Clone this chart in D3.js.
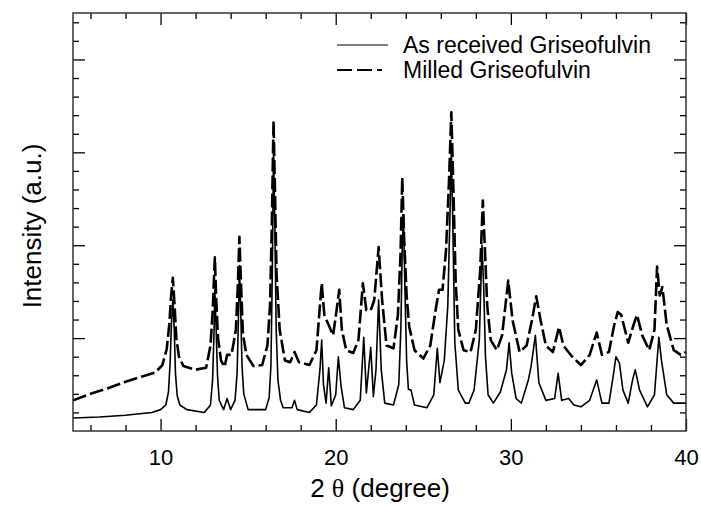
<!DOCTYPE html>
<html>
<head>
<meta charset="utf-8">
<script src="https://cdn.jsdelivr.net/npm/d3@7"></script>
<style>
body { margin: 0; background: #fff; }
text { font-family: "Liberation Sans", Arial, sans-serif; fill: #000; }
</style>
</head>
<body>
<script>
// 2 theta positions and intensities
var receivedTheta = [5.0, 6.5, 8.0, 9.5, 10.0, 10.3, 10.45, 10.55, 10.62, 10.7, 10.78, 10.85, 10.95, 11.1, 11.5, 12.5, 12.85, 12.97, 13.05, 13.1, 13.17, 13.25, 13.35, 13.6,
    13.8, 14.0, 14.25, 14.37, 14.45, 14.5, 14.57, 14.65, 14.75, 15.0, 16.0, 16.2, 16.3, 16.38, 16.45, 16.52, 16.6, 16.7, 16.85, 17.0, 17.5, 17.65, 17.8, 18.5, 18.9,
    19.1, 19.2, 19.3, 19.45, 19.6, 19.75, 20.0, 20.15, 20.3, 20.5, 21.0, 21.4, 21.6, 21.75, 22.0, 22.15, 22.3, 22.45, 22.6, 22.8,
    23.3, 23.6, 23.72, 23.8, 23.87, 23.95, 24.05, 24.15, 24.3, 24.5, 25.2, 25.6, 25.8, 25.95, 26.2, 26.4, 26.52, 26.6, 26.68, 26.8, 27.0, 27.4, 27.6, 27.9,
    28.2, 28.35, 28.45, 28.55, 28.7, 29.0, 29.4, 29.75, 29.9, 30.05, 30.3, 30.6, 31.0, 31.15, 31.4, 31.6, 32.0, 32.5, 32.7, 32.9, 33.3,
    33.6, 34.0, 34.5, 34.9, 35.2, 35.6, 35.85, 36.0, 36.2, 36.4, 36.7, 36.95, 37.1, 37.35, 37.8, 38.2, 38.45, 38.6, 38.9, 39.3, 40.0];
var receivedIntensity = [0.14, 0.15, 0.17, 0.20, 0.23, 0.28, 0.42, 0.75, 1.15, 1.41, 1.10, 0.62, 0.38, 0.28, 0.23, 0.20, 0.28, 0.55, 1.05, 1.52, 1.12, 0.60, 0.33, 0.23,
    0.35, 0.23, 0.33, 0.62, 1.25, 1.78, 1.35, 0.70, 0.40, 0.23, 0.23, 0.36, 0.70, 1.70, 3.02, 2.30, 1.10, 0.55, 0.33, 0.25, 0.25, 0.33, 0.23, 0.20, 0.28,
    0.66, 0.98, 0.50, 0.30, 0.68, 0.27, 0.39, 0.80, 0.49, 0.25, 0.23, 0.33, 1.01, 0.41, 0.90, 0.37, 0.66, 1.41, 0.66, 0.30,
    0.28, 0.50, 1.10, 2.00, 2.32, 1.55, 0.75, 0.45, 0.44, 0.28, 0.25, 0.39, 0.89, 0.52, 0.76, 1.35, 2.30, 3.02, 2.30, 0.95, 0.44, 0.30, 0.30, 0.44,
    0.98, 2.00, 1.55, 0.80, 0.39, 0.30, 0.42, 0.66, 0.95, 0.62, 0.35, 0.30, 0.55, 0.69, 1.03, 0.52, 0.33, 0.35, 0.62, 0.33, 0.35,
    0.28, 0.26, 0.33, 0.55, 0.30, 0.30, 0.60, 0.80, 0.73, 0.44, 0.30, 0.55, 0.66, 0.44, 0.26, 0.39, 1.01, 0.76, 0.39, 0.30, 0.30];

var milledTheta = [5.0, 6.0, 7.0, 8.0, 9.0, 9.7, 10.1, 10.35, 10.5, 10.6, 10.7, 10.8, 10.9, 11.05, 11.3, 12.0, 12.6, 12.85, 12.98, 13.05, 13.1, 13.17, 13.28, 13.45,
    13.65, 13.8, 14.05, 14.3, 14.42, 14.5, 14.58, 14.7, 14.9, 15.3, 15.8, 16.1, 16.25, 16.35, 16.45, 16.53, 16.62, 16.8, 17.1, 17.4, 17.65, 17.9, 18.5, 18.9,
    19.1, 19.2, 19.35, 19.6, 19.85, 20.05, 20.2, 20.35, 20.6, 21.0, 21.3, 21.55, 21.75, 22.0, 22.2, 22.45, 22.65, 22.9, 23.3, 23.55,
    23.7, 23.8, 23.9, 24.05, 24.2, 24.5, 25.0, 25.4, 25.7, 25.9, 26.1, 26.3, 26.47, 26.6, 26.72, 26.85, 27.0, 27.3, 27.7, 28.0, 28.25, 28.4, 28.52, 28.65, 28.85,
    29.2, 29.5, 29.85, 30.1, 30.5, 30.9, 31.2, 31.45, 31.7, 32.0, 32.4, 32.75, 33.0, 33.5, 34.0, 34.5, 34.9, 35.2, 35.6, 35.9,
    36.1, 36.3, 36.7, 37.0, 37.2, 37.5, 37.9, 38.2, 38.35, 38.5, 38.65, 38.9, 39.3, 39.7, 40.0];
var milledIntensity = [0.33, 0.40, 0.46, 0.53, 0.59, 0.63, 0.71, 0.88, 1.15, 1.45, 1.65, 1.35, 1.00, 0.80, 0.70, 0.66, 0.68, 0.92, 1.30, 1.65, 1.87, 1.45, 1.00, 0.76,
    0.69, 0.82, 0.82, 1.09, 1.60, 2.09, 1.65, 1.05, 0.82, 0.70, 0.71, 0.92, 1.35, 2.20, 3.34, 2.60, 1.70, 1.09, 0.76, 0.74, 0.85, 0.74, 0.71, 0.87,
    1.35, 1.59, 1.25, 1.14, 1.03, 1.30, 1.52, 1.09, 0.87, 0.84, 0.98, 1.59, 1.30, 1.30, 1.41, 1.98, 1.41, 0.92, 0.89, 1.25,
    1.90, 2.73, 2.10, 1.45, 1.12, 0.87, 0.78, 0.92, 1.30, 1.52, 1.52, 1.95, 2.70, 3.43, 2.60, 1.60, 1.09, 0.87, 0.85, 1.09, 1.73, 2.48, 1.95, 1.35, 0.98,
    0.87, 1.03, 1.62, 1.19, 0.85, 0.92, 1.19, 1.45, 1.19, 0.92, 0.85, 1.12, 0.92, 0.80, 0.71, 0.82, 1.06, 0.82, 0.85, 1.14,
    1.28, 1.25, 0.95, 1.14, 1.25, 1.03, 0.87, 1.09, 1.77, 1.46, 1.55, 1.14, 0.87, 0.82, 0.85];

var xTickLabels = [10, 20, 30, 40];
var legendNames = ["As received Griseofulvin", "Milled Griseofulvin"];

var w = 701;
var h = 506;
// plot frame (window.top is reserved, so no "top" here)
var pLeft = 73, pRight = 686, pTop = 13, pBottom = 431;

var svg = d3.select("body")
    .append("svg")
    .attr("width", w)
    .attr("height", h);

var xScale = d3.scaleLinear()
    .domain([5, 40])
    .range([pLeft, pRight]);

var yScale = d3.scaleLinear()
    .domain([0, 4.5])
    .range([pBottom, pTop]);

var received = receivedTheta.map(function(t, i) { return [t, receivedIntensity[i]]; });
var milled = milledTheta.map(function(t, i) { return [t, milledIntensity[i]]; });

var line = d3.line()
    .x(function(d) { return xScale(d[0]); })
    .y(function(d) { return yScale(d[1]); });

svg.append("path")
    .datum(received)
    .attr("d", line)
    .attr("fill", "none")
    .attr("stroke", "#000")
    .attr("stroke-width", 1.6)
    .attr("stroke-linejoin", "round");

svg.append("path")
    .datum(milled)
    .attr("d", line)
    .attr("fill", "none")
    .attr("stroke", "#000")
    .attr("stroke-width", 2.6)
    .attr("stroke-linejoin", "round")
    .attr("stroke-dasharray", "14,4");

// ticks point inward on all four sides
var xMinor = d3.range(6, 40, 2).filter(function(d) { return d % 10 != 0; });
var yMinor = d3.range(0.2, 4.5, 0.2).filter(function(d) { return Math.abs(d - Math.round(d)) > 0.01; });

svg.append("g")
    .attr("class", "xlab")
    .attr("transform", "translate(0," + pBottom + ")")
    .call(d3.axisBottom(xScale).tickValues(xTickLabels).tickSize(-12).tickFormat(d3.format("d")));
svg.append("g")
    .attr("transform", "translate(0," + pBottom + ")")
    .call(d3.axisBottom(xScale).tickValues(xMinor).tickSize(-6).tickFormat(""));
svg.append("g")
    .attr("transform", "translate(0," + pTop + ")")
    .call(d3.axisTop(xScale).tickValues(xTickLabels).tickSize(-12).tickFormat(""));
svg.append("g")
    .attr("transform", "translate(0," + pTop + ")")
    .call(d3.axisTop(xScale).tickValues(xMinor).tickSize(-6).tickFormat(""));
svg.append("g")
    .attr("transform", "translate(" + pLeft + ",0)")
    .call(d3.axisLeft(yScale).tickValues([1, 2, 3, 4]).tickSize(-12).tickFormat(""));
svg.append("g")
    .attr("transform", "translate(" + pLeft + ",0)")
    .call(d3.axisLeft(yScale).tickValues(yMinor).tickSize(-6).tickFormat(""));
svg.append("g")
    .attr("transform", "translate(" + pRight + ",0)")
    .call(d3.axisRight(yScale).tickValues([1, 2, 3, 4]).tickSize(-12).tickFormat(""));
svg.append("g")
    .attr("transform", "translate(" + pRight + ",0)")
    .call(d3.axisRight(yScale).tickValues(yMinor).tickSize(-6).tickFormat(""));

svg.selectAll(".domain").remove();
svg.selectAll(".tick line").attr("stroke", "#000").attr("stroke-width", 1.3);
svg.selectAll(".xlab").attr("font-size", null).attr("font-family", null);
svg.selectAll(".xlab .tick text")
    .attr("dy", null)
    .attr("y", 34)
    .style("font-size", "22px");

svg.append("rect")
    .attr("x", pLeft)
    .attr("y", pTop)
    .attr("width", pRight - pLeft)
    .attr("height", pBottom - pTop)
    .attr("fill", "none")
    .attr("stroke", "#333")
    .attr("stroke-width", 1.5);

// axis titles
var xt = svg.append("text")
    .attr("x", 380)
    .attr("y", 497)
    .attr("text-anchor", "middle")
    .style("font-size", "26px");
xt.append("tspan").text("2 ");
xt.append("tspan").style("font-family", "'Liberation Serif', 'DejaVu Serif', serif").text("θ");
xt.append("tspan").text(" (degree)");

svg.append("text")
    .attr("transform", "translate(41,226) rotate(-90)")
    .attr("text-anchor", "middle")
    .style("font-size", "26px")
    .text("Intensity (a.u.)");

// legend
var legend = svg.selectAll(".legend")
    .data(legendNames)
    .enter()
    .append("g")
    .attr("transform", function(d, i) { return "translate(337," + (45 + i * 25) + ")"; });

legend.append("line")
    .attr("x1", 0)
    .attr("x2", 51)
    .attr("stroke", "#000")
    .attr("stroke-width", function(d, i) { return i == 0 ? 1.2 : 2; })
    .attr("stroke-dasharray", function(d, i) { return i == 0 ? null : "15,5,15,5,5,20"; });

legend.append("text")
    .attr("x", 66)
    .attr("y", 8)
    .style("font-size", "23px")
    .text(function(d) { return d; });
</script>
</body>
</html>
